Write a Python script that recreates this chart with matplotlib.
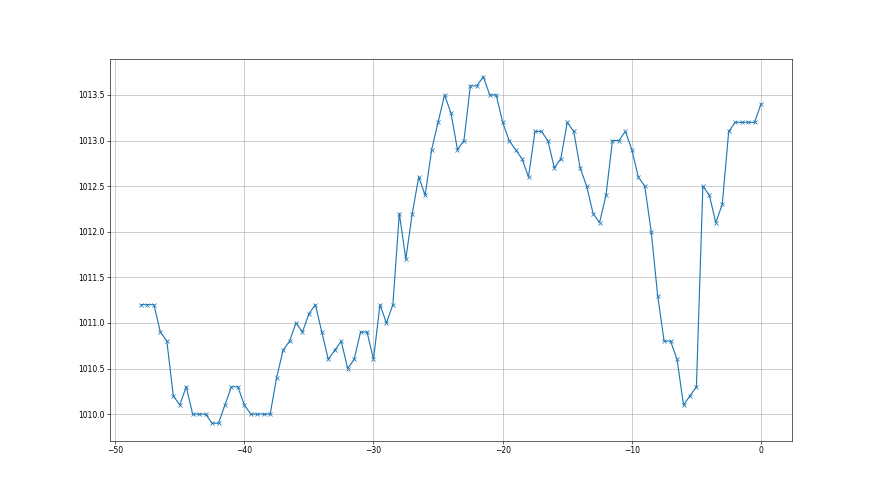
import matplotlib
matplotlib.use("Agg")
import matplotlib.pyplot as plt
import numpy as np

hours = np.arange(-48, 0.01, 0.5)
pressure = [
    1011.2, 1011.2, 1011.2, 1010.9, 1010.8, 1010.2, 1010.1, 1010.3, 1010.0, 1010.0,
    1010.0, 1009.9, 1009.9, 1010.1, 1010.3, 1010.3, 1010.1, 1010.0, 1010.0, 1010.0,
    1010.0, 1010.4, 1010.7, 1010.8, 1011.0, 1010.9, 1011.1, 1011.2, 1010.9, 1010.6,
    1010.7, 1010.8, 1010.5, 1010.6, 1010.9, 1010.9, 1010.6, 1011.2, 1011.0, 1011.2,
    1012.2, 1011.7, 1012.2, 1012.6, 1012.4, 1012.9, 1013.2, 1013.5, 1013.3, 1012.9,
    1013.0, 1013.6, 1013.6, 1013.7, 1013.5, 1013.5, 1013.2, 1013.0, 1012.9, 1012.8,
    1012.6, 1013.1, 1013.1, 1013.0, 1012.7, 1012.8, 1013.2, 1013.1, 1012.7, 1012.5,
    1012.2, 1012.1, 1012.4, 1013.0, 1013.0, 1013.1, 1012.9, 1012.6, 1012.5, 1012.0,
    1011.3, 1010.8, 1010.8, 1010.6, 1010.1, 1010.2, 1010.3, 1012.5, 1012.4, 1012.1,
    1012.3, 1013.1, 1013.2, 1013.2, 1013.2, 1013.2, 1013.4,
]

fig, ax = plt.subplots(figsize=(16, 9), dpi=55)
ax.plot(hours, pressure, marker='x', color='#1f77b4')
ax.grid(True)
ax.ticklabel_format(useOffset=False, axis='y')
fig.savefig("out.png", dpi=55)
